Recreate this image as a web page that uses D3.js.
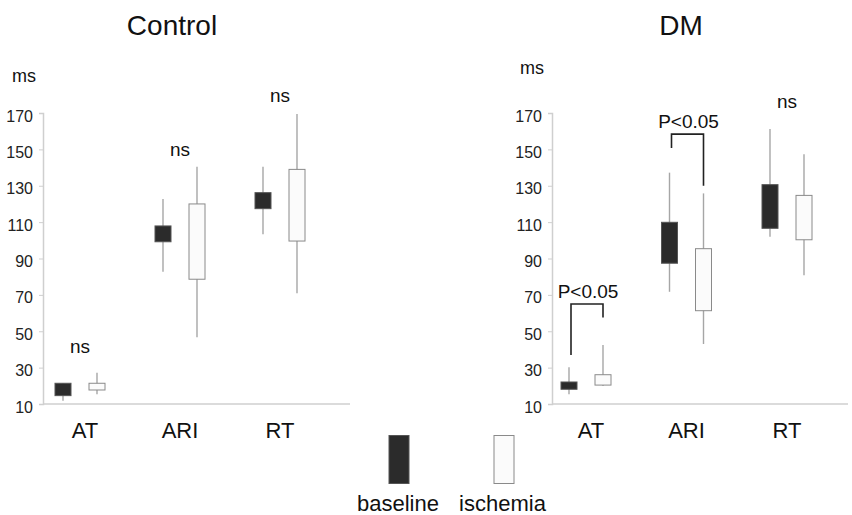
<!DOCTYPE html>
<html>
<head>
<meta charset="utf-8">
<script src="https://cdn.jsdelivr.net/npm/d3@7/dist/d3.min.js"></script>
<style>
  html, body { margin: 0; padding: 0; background: #fff; }
  svg { display: block; font-family: "Liberation Sans", Arial, Helvetica, sans-serif; }
</style>
</head>
<body>
<svg id="chart" width="852" height="515"></svg>
<script>
// ---------- data ----------
const categories = ["AT", "ARI", "RT"];
const seriesNames = ["baseline", "ischemia"];
const yTicks = [10, 30, 50, 70, 90, 110, 130, 150, 170];
const yUnit = "ms";

// box summaries: [min, q1, q3, max] per category
const controlBaseline = [[11.8, 14.6, 21.4, 21.6], [82.7, 99.2, 107.9, 122.7], [103.3, 117.4, 126.2, 140.5]];
const controlIschemia = [[15.3, 17.7, 21.4, 27.2], [46.7, 78.6, 120.0, 140.5], [70.9, 99.6, 139.0, 169.4]];
const dmBaseline      = [[15.3, 18.1, 22.1, 30.2], [71.7, 87.4, 109.9, 137.2], [102.0, 106.6, 130.6, 161.2]];
const dmIschemia      = [[19.9, 20.4, 26.1, 42.4], [43.0, 61.3, 95.4, 125.8], [80.8, 100.3, 124.7, 147.3]];

// annotations
const controlNotes = [["AT", "ns", 41], ["ARI", "ns", 149], ["RT", "ns", 179]];
const dmNotes = [["RT", "ns", 175.5]];
// bracket: category, label, top value, left-leg end value, right-leg end value
const dmBrackets = [["AT", "P<0.05", 65, 37, 57.5], ["ARI", "P<0.05", 158.4, 150.7, 130]];

// ---------- drawing ----------
const svg = d3.select("#chart");
const colors = { baseline: "#2b2b2b", ischemia: "#fbfbfb" };
const strokes = { baseline: "#555", ischemia: "#8a8a8a" };

function drawPanel(cfg) {
  const g = svg.append("g");
  const y = d3.scaleLinear().domain([10, 170]).range([404, 113]);
  const x = d3.scalePoint().domain(categories).range(cfg.xRange);
  const offset = { baseline: -17, ischemia: 17 };
  const bw = 16;

  // title
  g.append("text").attr("x", cfg.titleX).attr("y", 35)
    .attr("text-anchor", "middle").attr("font-size", 28).attr("fill", "#111")
    .text(cfg.title);

  // unit label
  g.append("text").attr("x", cfg.msX).attr("y", cfg.msY)
    .attr("text-anchor", "middle").attr("font-size", 18).attr("fill", "#111")
    .text(yUnit);

  // y axis
  const yAxis = d3.axisLeft(y).tickValues(yTicks).tickSize(4).tickPadding(6).tickFormat(d3.format("d"));
  const ya = g.append("g").attr("transform", `translate(${cfg.axisX},0)`).call(yAxis);
  ya.select(".domain").attr("stroke", "#cfcfcf").attr("stroke-width", 1.5);
  ya.selectAll(".tick line").attr("stroke", "#cfcfcf");
  ya.selectAll(".tick text").attr("font-size", 16).attr("fill", "#222")
    .attr("font-family", "'Liberation Sans', Arial, sans-serif").attr("dy", "0.5em");

  // x axis line
  g.append("line").attr("x1", cfg.axisX).attr("x2", cfg.axisEnd)
    .attr("y1", y(10)).attr("y2", y(10))
    .attr("stroke", "#cfcfcf").attr("stroke-width", 1.5);

  // category labels
  g.selectAll(".cat").data(categories).join("text")
    .attr("x", (d, i) => x(d) + (i === 0 ? 5 : 0)).attr("y", 438)
    .attr("text-anchor", "middle").attr("font-size", 22).attr("fill", "#111")
    .text(d => d);

  // boxes
  seriesNames.forEach(s => {
    const vals = cfg.data[s];
    const grp = g.append("g");
    grp.selectAll("line.w").data(vals).join("line")
      .attr("x1", (d, i) => x(categories[i]) + offset[s])
      .attr("x2", (d, i) => x(categories[i]) + offset[s])
      .attr("y1", d => y(d[0])).attr("y2", d => y(d[3]))
      .attr("stroke", "#a6a6a6").attr("stroke-width", 1.4);
    grp.selectAll("rect").data(vals).join("rect")
      .attr("x", (d, i) => x(categories[i]) + offset[s] - bw / 2)
      .attr("width", bw)
      .attr("y", d => y(d[2]))
      .attr("height", d => y(d[1]) - y(d[2]))
      .attr("fill", colors[s]).attr("stroke", strokes[s]).attr("stroke-width", 1);
  });

  // notes
  g.selectAll(".note").data(cfg.notes).join("text")
    .attr("x", d => x(d[0])).attr("y", d => y(d[2]) + 5)
    .attr("text-anchor", "middle").attr("font-size", 19).attr("fill", "#111")
    .text(d => d[1]);

  // brackets
  (cfg.brackets || []).forEach(b => {
    const cx = x(b[0]);
    const xl = cx - 15, xr = cx + 17;
    g.append("path")
      .attr("d", `M${xl},${y(b[3])}V${y(b[2])}H${xr}V${y(b[4])}`)
      .attr("fill", "none").attr("stroke", "#222").attr("stroke-width", 1.6);
    g.append("text").attr("x", cx + 2).attr("y", y(b[2]) - 6)
      .attr("text-anchor", "middle").attr("font-size", 19).attr("fill", "#111")
      .text(b[1]);
  });
}

drawPanel({
  title: "Control", titleX: 172, msX: 24, msY: 82,
  axisX: 43, axisEnd: 350, xRange: [80, 280],
  data: { baseline: controlBaseline, ischemia: controlIschemia },
  notes: controlNotes
});
drawPanel({
  title: "DM", titleX: 681, msX: 532, msY: 74,
  axisX: 552, axisEnd: 848, xRange: [586, 787],
  data: { baseline: dmBaseline, ischemia: dmIschemia },
  notes: dmNotes, brackets: dmBrackets
});

// legend
const legend = svg.append("g");
const legendItems = [
  { s: "baseline", rx: 389, tx: 398 },
  { s: "ischemia", rx: 494, tx: 502.5 }
];
legend.selectAll("rect").data(legendItems).join("rect")
  .attr("x", d => d.rx).attr("y", 435.5).attr("width", 20).attr("height", 48)
  .attr("fill", d => colors[d.s]).attr("stroke", d => strokes[d.s]).attr("stroke-width", 1);
legend.selectAll("text").data(legendItems).join("text")
  .attr("x", d => d.tx).attr("y", 511)
  .attr("text-anchor", "middle").attr("font-size", 22).attr("fill", "#111")
  .text(d => d.s);
</script>
</body>
</html>
